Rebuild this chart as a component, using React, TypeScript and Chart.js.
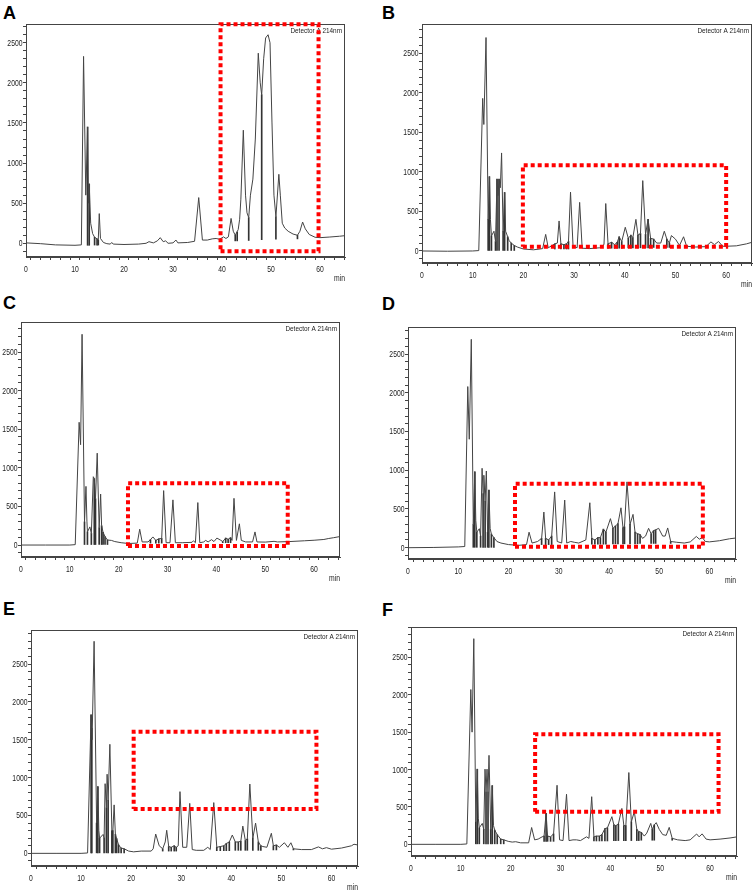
import { useEffect, useRef } from "react";
import { Chart, registerables } from "chart.js";

Chart.register(...registerables);

type Pt = [number, number]; // [retention time (min), signal]
type Drop = [number, number, number]; // [time, baseline, top]

// ---------- data ----------
const traceA: Pt[] = [
  [0, 5], [3, -5], [6, -20], [10, -25], [11.3, -20], [11.75, 2330], [12.2, 600], [12.57, 1450],
  [12.75, 500], [12.9, 740], [13.2, 250], [13.6, 120], [14.0, 75], [14.5, 55], [14.75, 40],
  [14.95, 370], [15.2, 60], [15.8, 10], [16.5, -5], [17.2, -10], [17.5, 10], [17.8, -10],
  [20, -15], [23, -10], [24.5, 0], [25.1, 20], [26, 5], [26.8, 30], [27.4, 70], [28.0, 20],
  [28.5, 30], [29, 0], [30, 5], [30.6, 40], [31, 5], [33, 10], [34.4, 25], [35.25, 570],
  [36, 40], [37, 40], [38, 55], [38.8, 60], [39.5, 50], [40.3, 80], [40.8, 60], [41.3, 80],
  [41.85, 310], [42.3, 150], [42.7, 100], [43.3, 170], [43.6, 300], [43.85, 550], [44.35, 1410],
  [44.8, 600], [45.1, 380], [45.45, 320], [45.8, 600], [46.3, 800], [46.8, 1300], [47.4, 2370],
  [47.8, 2000], [48.1, 1850], [48.5, 2300], [48.9, 2560], [49.4, 2600], [49.8, 2500],
  [50.2, 1500], [50.6, 600], [51.0, 330], [51.6, 860], [51.9, 600], [52.3, 250], [52.8, 190],
  [53.5, 150], [54.5, 115], [55.4, 100], [55.9, 150], [56.45, 265], [57, 180], [57.8, 110],
  [59, 75], [60, 70], [62, 78], [64, 88], [65.1, 95],
];
const dropsA: Drop[] = [
  [12.57, -25, 1450], [12.9, -25, 740], [14.0, -22, 75], [14.5, -22, 55], [14.75, -22, 40],
  [42.7, 30, 100], [43.1, 30, 140], [45.45, 35, 320], [48.1, 45, 1850], [51.0, 50, 330],
  [55.4, 55, 100],
];
const boxA = [39.7, 59.7, -100, 2730];
const yRangeA = [-171, 2734];

const traceB: Pt[] = [
  [0, 0], [5, -3], [10, 0], [11.2, 5], [11.97, 1930], [12.2, 1600], [12.63, 2700], [13.05, 400],
  [13.3, 940], [13.5, 400], [13.7, 190], [14.2, 250], [14.5, 120], [14.8, 910], [15.0, 700],
  [15.2, 910], [15.45, 800], [15.7, 1240], [16.0, 250], [16.3, 740], [16.5, 250], [16.9, 180],
  [17.2, 130], [17.6, 100], [18.2, 70], [18.8, 50], [20, 25], [22, 15], [23.8, 30], [24.4, 210],
  [24.9, 40], [26.2, 90], [26.7, 100], [27.04, 380], [27.4, 90], [28.0, 80], [28.5, 90],
  [28.9, 120], [29.3, 745], [29.8, 60], [30.6, 40], [31.1, 615], [31.6, 35], [33, 30], [35, 40],
  [35.9, 80], [36.25, 600], [36.7, 90], [37.4, 110], [38.0, 80], [38.5, 110], [38.9, 180],
  [39.4, 120], [40.1, 300], [40.7, 160], [41.2, 200], [41.6, 170], [42.2, 400], [42.6, 200],
  [43.1, 220], [43.55, 890], [44.1, 210], [44.6, 400], [45.1, 160], [45.7, 150], [46.3, 100],
  [47.1, 100], [47.8, 250], [48.3, 150], [48.8, 100], [49.2, 195], [50.0, 150], [50.8, 70],
  [51.6, 180], [52.2, 60], [54, 50], [56, 55], [57.0, 115], [57.7, 80], [58.5, 120], [59.3, 60],
  [60, 60], [62, 65], [64, 90], [65.1, 110],
];
const dropsB: Drop[] = [
  [13.05, 0, 400], [13.3, 0, 940], [13.7, 0, 190], [14.5, 0, 120], [14.8, 0, 910], [15.2, 0, 910],
  [16.0, 0, 250], [16.3, 0, 740], [16.9, 0, 180], [17.6, 0, 100], [18.2, 0, 70],
  [26.2, 25, 90], [27.4, 25, 90], [28.0, 25, 80], [28.5, 25, 90], [28.9, 25, 120],
  [36.7, 35, 90], [37.4, 35, 110], [38.0, 35, 80], [38.5, 35, 110], [38.9, 35, 180],
  [39.4, 35, 120], [40.7, 40, 160], [41.2, 40, 200], [41.6, 40, 170], [42.6, 40, 200],
  [43.1, 40, 220], [44.1, 40, 210], [44.6, 40, 400], [45.1, 45, 160], [45.7, 45, 150],
  [48.3, 45, 150], [48.8, 45, 100], [52.2, 45, 60],
];
const boxB = [19.9, 60, 55, 1083];
const yRangeB = [-152, 2871];

const traceC: Pt[] = [
  [0, 0], [5, 0], [10, 0], [11.1, 5], [11.9, 1590], [12.2, 1300], [12.5, 2730], [13.0, 300],
  [13.3, 760], [13.5, 300], [13.6, 170], [14.1, 235], [14.4, 150], [14.8, 885], [15.0, 860],
  [15.25, 600], [15.6, 1190], [16.0, 220], [16.3, 660], [16.5, 250], [16.8, 165], [17.2, 110],
  [17.7, 65], [18.5, 60], [19.2, 45], [20.5, 30], [22, 20], [23.8, 25], [24.3, 205], [24.8, 40],
  [26, 40], [26.5, 70], [27.0, 105], [27.6, 60], [28.2, 80], [28.8, 85], [29.2, 705], [29.7, 30],
  [30.5, 30], [31.1, 585], [31.6, 30], [33, 30], [35.0, 35], [35.3, 55], [35.7, 30], [36.2, 550],
  [36.6, 30], [37.4, 40], [37.8, 60], [38.3, 40], [39.0, 70], [39.5, 45], [40.1, 90], [40.8, 65],
  [41.3, 45], [41.9, 90], [42.4, 75], [42.9, 95], [43.2, 60], [43.6, 605], [44.1, 60],
  [44.7, 275], [45.1, 60], [46, 40], [47.4, 40], [47.9, 170], [48.3, 40], [50, 38], [51.8, 48],
  [52.5, 40], [55, 45], [58, 55], [60, 62], [62, 72], [63, 85], [64, 95], [65.3, 110],
];
const dropsC: Drop[] = [
  [13.0, 0, 300], [13.6, 0, 170], [14.4, 0, 150], [15.0, 0, 860], [15.25, 0, 600], [16.0, 0, 220],
  [16.5, 0, 250], [16.8, 0, 165], [17.2, 0, 110], [17.7, 0, 65], [26.5, 25, 70], [27.6, 25, 60],
  [28.2, 25, 80], [28.8, 25, 85], [41.3, 30, 45], [41.9, 30, 90], [42.4, 30, 75], [42.9, 30, 95],
];
const boxC = [21.9, 54.6, -13, 799];
const yRangeC = [-155, 2889];

const traceD: Pt[] = [
  [0, 0], [5, 3], [10, 10], [11.3, 15], [11.9, 2080], [12.2, 1400], [12.6, 2690], [13.0, 300],
  [13.3, 980], [13.5, 350], [13.7, 200], [14.2, 245], [14.45, 150], [14.75, 1025], [14.95, 700],
  [15.1, 935], [15.35, 600], [15.6, 990], [15.85, 200], [16.1, 745], [16.35, 250], [16.6, 175],
  [17.1, 130], [17.7, 80], [18.5, 60], [20, 40], [22, 30], [23.6, 40], [24.1, 200], [24.7, 60],
  [25.8, 80], [26.6, 120], [27.05, 460], [27.4, 120], [28.0, 100], [28.6, 150], [29.2, 720],
  [29.7, 80], [30.6, 60], [31.2, 615], [31.6, 60], [32.4, 80], [33.1, 70], [34.0, 60],
  [35.4, 100], [36.2, 580], [36.6, 120], [37.2, 100], [37.8, 130], [38.3, 130], [38.9, 240],
  [39.4, 200], [40.3, 375], [40.8, 250], [41.3, 280], [41.8, 310], [42.4, 515], [42.8, 260],
  [43.1, 270], [43.6, 850], [44.2, 300], [44.8, 430], [45.2, 200], [45.7, 180], [46.2, 170],
  [46.7, 120], [47.3, 150], [47.9, 250], [48.4, 180], [48.9, 220], [49.3, 230], [49.9, 250],
  [50.7, 150], [51.2, 150], [51.7, 255], [52.3, 80], [53.5, 70], [55, 60], [56.2, 75],
  [57.4, 145], [58.0, 110], [58.6, 130], [59.2, 80], [60, 75], [62, 90], [64, 115], [65.3, 125],
];
const dropsD: Drop[] = [
  [13.0, 5, 300], [13.3, 5, 980], [13.7, 5, 200], [14.45, 5, 150], [14.95, 5, 700],
  [15.35, 5, 600], [15.85, 5, 200], [16.1, 5, 745], [16.6, 5, 175], [17.1, 5, 130],
  [26.6, 40, 120], [27.4, 40, 120], [28.0, 40, 100], [28.6, 40, 150], [36.6, 45, 120],
  [37.2, 45, 100], [37.8, 45, 130], [38.3, 45, 130], [38.9, 45, 240], [39.4, 45, 200],
  [40.8, 50, 250], [41.3, 50, 280], [41.8, 50, 310], [42.8, 50, 260], [43.1, 50, 270],
  [44.2, 50, 300], [45.2, 50, 200], [45.7, 50, 180], [46.2, 55, 170], [48.4, 55, 180],
  [48.9, 55, 220], [49.3, 55, 230], [52.3, 55, 80],
];
const boxD = [21.3, 58.7, 13, 826];
const yRangeD = [-146, 2849];

const traceE: Pt[] = [
  [0, 0], [5, 0], [10, 0], [11.3, 5], [12.0, 1830], [12.2, 1500], [12.6, 2800], [13.1, 400],
  [13.35, 880], [13.55, 300], [13.7, 200], [14.4, 250], [14.6, 200], [14.8, 920], [15.05, 600],
  [15.2, 1045], [15.4, 700], [15.75, 1440], [16.15, 300], [16.35, 300], [16.6, 640],
  [16.85, 250], [17.1, 195], [17.5, 110], [18.0, 70], [18.6, 60], [19.5, 30], [20.5, 20],
  [22, 30], [24, 30], [24.4, 60], [24.9, 255], [25.6, 100], [26.3, 60], [26.8, 150], [27.1, 305],
  [27.5, 90], [28.0, 80], [28.6, 100], [29.0, 80], [29.4, 100], [29.75, 815], [30.3, 80],
  [31.1, 80], [31.7, 660], [32.2, 50], [33, 40], [34.5, 40], [35.3, 80], [35.8, 50], [36.5, 670],
  [37.1, 80], [37.8, 90], [38.5, 100], [39.0, 130], [39.6, 150], [40.2, 242], [40.8, 150],
  [41.4, 150], [41.9, 160], [42.3, 360], [42.8, 170], [43.2, 190], [43.7, 915], [44.3, 200],
  [44.85, 400], [45.4, 150], [45.9, 100], [46.3, 90], [47.1, 80], [48.0, 265], [48.4, 100],
  [49.0, 110], [49.6, 80], [50.6, 140], [51.3, 80], [51.9, 140], [52.4, 60], [54, 50], [56, 50],
  [57.4, 85], [58.2, 60], [59.0, 75], [60, 55], [62, 70], [64, 100], [64.5, 120], [65.3, 110],
];
const dropsE: Drop[] = [
  [12.0, 0, 1830], [12.15, 0, 1650], [13.1, 0, 400], [13.35, 0, 880], [13.7, 0, 200],
  [14.6, 0, 200], [15.05, 0, 600], [15.4, 0, 700], [16.15, 0, 300], [16.35, 0, 300],
  [16.85, 0, 250], [17.1, 0, 195], [17.5, 0, 110], [18.0, 0, 70], [18.6, 0, 60],
  [26.3, 30, 60], [27.5, 30, 90], [28.0, 30, 80], [28.6, 30, 100], [29.0, 30, 80],
  [37.1, 35, 80], [37.8, 35, 90], [38.5, 35, 100], [39.0, 35, 130], [39.6, 35, 150],
  [40.8, 40, 150], [41.4, 40, 150], [41.9, 40, 160], [42.8, 40, 170], [43.2, 40, 190],
  [44.3, 40, 200], [45.4, 40, 150], [45.9, 40, 100], [48.4, 45, 100], [49.0, 45, 110],
  [52.4, 45, 60],
];
const boxE = [20.5, 57.0, 585, 1606];
const yRangeE = [-167, 2949];

const traceF: Pt[] = [
  [0, 0], [5, 0], [10, 0], [11.2, 5], [12.0, 2070], [12.25, 1500], [12.6, 2750], [13.0, 300],
  [13.3, 1005], [13.5, 350], [13.7, 220], [14.3, 280], [14.6, 200], [14.85, 1005], [15.05, 700],
  [15.25, 1005], [15.45, 700], [15.65, 1190], [16.0, 200], [16.3, 785], [16.55, 250],
  [16.8, 190], [17.3, 130], [18.0, 70], [18.6, 60], [19.5, 40], [20.3, 30], [21, 35], [22, 20],
  [23.6, 20], [24.2, 225], [24.8, 60], [25.5, 70], [26.3, 100], [26.7, 110], [27.1, 415],
  [27.4, 110], [28.0, 100], [28.6, 140], [29.3, 790], [29.8, 60], [30.5, 50], [31.2, 670],
  [31.7, 50], [32.5, 60], [33.2, 60], [34.0, 50], [35.2, 100], [35.7, 80], [36.25, 637],
  [36.7, 100], [37.2, 110], [37.8, 110], [38.3, 130], [38.9, 210], [39.4, 220], [40.3, 370],
  [40.7, 260], [41.1, 250], [41.6, 270], [42.3, 480], [42.7, 250], [43.1, 250], [43.7, 960],
  [44.2, 300], [44.8, 437], [45.3, 200], [45.7, 170], [46.2, 160], [46.8, 110], [47.3, 150],
  [48.1, 280], [48.4, 200], [48.8, 260], [49.2, 290], [49.8, 200], [50.5, 130], [51.2, 120],
  [51.8, 227], [52.4, 80], [53.5, 60], [55, 50], [56, 60], [57.3, 138], [57.8, 100],
  [58.4, 140], [59.2, 70], [60, 60], [62, 70], [64, 85], [65.4, 100],
];
const dropsF: Drop[] = [
  [13.0, 0, 300], [13.3, 0, 1005], [13.7, 0, 220], [14.6, 0, 200], [15.05, 0, 700],
  [15.45, 0, 700], [16.0, 0, 200], [16.3, 0, 785], [16.8, 0, 190], [17.3, 0, 130],
  [18.0, 0, 70], [18.6, 0, 60], [26.7, 40, 110], [27.1, 40, 415], [27.4, 40, 110],
  [28.0, 40, 100], [28.6, 40, 140], [36.7, 45, 100], [37.2, 45, 110], [37.8, 45, 110],
  [38.3, 45, 130], [38.9, 45, 210], [39.4, 45, 220], [40.7, 50, 260], [41.1, 50, 250],
  [41.6, 50, 270], [42.7, 50, 250], [43.1, 50, 250], [44.2, 50, 300], [45.3, 50, 200],
  [45.7, 50, 170], [46.2, 55, 160], [48.4, 55, 200], [48.8, 55, 260], [52.4, 55, 80],
];
const boxF = [24.9, 61.7, 437, 1471];
const yRangeF = [-156, 2906];

const xTickLabels = [0, 10, 20, 30, 40, 50, 60];
const yTickLabels = [0, 500, 1000, 1500, 2000, 2500];
const xMinorStep = 2;
const yMinorStep = 100;
const detectorLabel = "Detector A 214nm";
const timeUnit = "min";

// ---------- layout ----------
const Y_AXIS_W = 26;
const X_AXIS_H = 28;
const PAD_T = 7;
const PAD_R = 2;
const FONT = "'Liberation Sans', Arial, sans-serif";
const SQUEEZE = 0.8; // the instrument software uses a condensed face

type Panel = {
  letter: string;
  trace: Pt[];
  drops: Drop[];
  box: number[];
  yRange: number[];
  xMax: number;
  plot: [number, number, number, number]; // left, top, right, bottom (px)
  letterAt: [number, number];
};

const panels: Panel[] = [
  { letter: "A", trace: traceA, drops: dropsA, box: boxA, yRange: yRangeA, xMax: 65.1, plot: [26, 24, 345, 257], letterAt: [3, 6] },
  { letter: "B", trace: traceB, drops: dropsB, box: boxB, yRange: yRangeB, xMax: 65.1, plot: [422, 24, 752, 263], letterAt: [382, 6] },
  { letter: "C", trace: traceC, drops: dropsC, box: boxC, yRange: yRangeC, xMax: 65.3, plot: [21, 322, 340, 557], letterAt: [3, 296] },
  { letter: "D", trace: traceD, drops: dropsD, box: boxD, yRange: yRangeD, xMax: 65.3, plot: [408, 327, 736, 559], letterAt: [382, 297] },
  { letter: "E", trace: traceE, drops: dropsE, box: boxE, yRange: yRangeE, xMax: 65.3, plot: [31, 630, 358, 866], letterAt: [3, 602] },
  { letter: "F", trace: traceF, drops: dropsF, box: boxF, yRange: yRangeF, xMax: 65.4, plot: [411, 627, 737, 856], letterAt: [382, 603] },
];

function squeezedText(ctx: CanvasRenderingContext2D, text: string, x: number, y: number, align: CanvasTextAlign) {
  ctx.save();
  ctx.translate(x, y);
  ctx.scale(SQUEEZE, 1);
  ctx.textAlign = align;
  ctx.fillText(text, 0, 0);
  ctx.restore();
}

// frame round the plot area, tick labels and captions in the instrument's narrow face
const framePlugin = {
  id: "frame",
  beforeDatasetsDraw(chart: Chart) {
    const { ctx, chartArea: a } = chart;
    ctx.save();
    ctx.strokeStyle = "#444";
    ctx.lineWidth = 1;
    ctx.strokeRect(a.left + 0.5, a.top + 0.5, a.right - a.left - 1, a.bottom - a.top - 1);
    ctx.fillStyle = "#222";
    ctx.font = `8px ${FONT}`;
    ctx.textBaseline = "alphabetic";
    squeezedText(ctx, detectorLabel, a.right - 3, a.top + 9, "right");
    ctx.restore();
  },
  afterDraw(chart: Chart) {
    const { ctx, chartArea: a, scales } = chart;
    ctx.save();
    ctx.fillStyle = "#222";
    ctx.font = `8.5px ${FONT}`;
    ctx.textBaseline = "alphabetic";
    yTickLabels.forEach((v) => {
      squeezedText(ctx, String(v), a.left - 3.5, scales.y.getPixelForValue(v) + 3, "right");
    });
    xTickLabels.forEach((v) => {
      squeezedText(ctx, String(v), scales.x.getPixelForValue(v), a.bottom + 14.5, "center");
    });
    squeezedText(ctx, timeUnit, a.right, a.bottom + 23.5, "right");
    ctx.restore();
  },
};

function minorTicks(step: number) {
  return (s: any) => {
    const ticks = [];
    for (let v = Math.ceil(s.min / step) * step; v <= s.max; v += step) ticks.push({ value: v });
    s.ticks = ticks;
  };
}

function Chromatogram({ panel }: { panel: Panel }) {
  const ref = useRef<HTMLCanvasElement | null>(null);
  const [l, t, r, b] = panel.plot;
  const yAxisW = Math.min(Y_AXIS_W, l);

  useEffect(() => {
    if (!ref.current) return;
    const [bx1, bx2, by1, by2] = panel.box;
    const chart = new Chart(ref.current, {
      type: "line",
      data: {
        datasets: [
          {
            type: "line",
            data: [
              { x: bx1, y: by1 }, { x: bx2, y: by1 }, { x: bx2, y: by2 },
              { x: bx1, y: by2 }, { x: bx1, y: by1 },
            ],
            borderColor: "#ff0000",
            borderWidth: 4,
            borderDash: [4, 3],
            borderCapStyle: "butt",
            pointRadius: 0,
            tension: 0,
            clip: false,
            order: 1,
          },
          {
            type: "line",
            data: panel.trace.map(([x, y]) => ({ x, y })),
            borderColor: "#444",
            borderWidth: 1,
            pointRadius: 0,
            tension: 0,
            order: 2,
          },
          {
            type: "bar",
            data: panel.drops.map(([x, lo, hi]) => ({ x, y: [lo, hi] })),
            backgroundColor: "#333",
            barThickness: 1,
            grouped: false,
            order: 3,
          } as any,
        ],
      },
      options: {
        animation: false,
        responsive: true,
        maintainAspectRatio: false,
        layout: { padding: { top: PAD_T, right: PAD_R, left: 0, bottom: 0 } },
        plugins: { legend: { display: false }, tooltip: { enabled: false } },
        events: [],
        scales: {
          x: {
            type: "linear",
            min: 0,
            max: panel.xMax,
            offset: false,
            afterBuildTicks: minorTicks(xMinorStep),
            afterFit: (s: any) => { s.height = X_AXIS_H; },
            grid: { drawOnChartArea: false, drawTicks: true, tickLength: 3, color: "#444" },
            border: { display: true, color: "#444" },
            ticks: { display: false },
          },
          y: {
            type: "linear",
            min: panel.yRange[0],
            max: panel.yRange[1],
            afterBuildTicks: minorTicks(yMinorStep),
            afterFit: (s: any) => { s.width = yAxisW; },
            grid: { drawOnChartArea: false, drawTicks: true, tickLength: 3, color: "#444" },
            border: { display: true, color: "#444" },
            ticks: { display: false },
          },
        },
      },
      plugins: [framePlugin],
    });
    return () => chart.destroy();
  }, [panel, yAxisW]);

  return (
    <>
      <div
        style={{
          position: "absolute",
          left: panel.letterAt[0],
          top: panel.letterAt[1] - 2,
          font: "bold 18px 'Liberation Sans', Arial, sans-serif",
          lineHeight: "18px",
          color: "#000",
        }}
      >
        {panel.letter}
      </div>
      <div
        style={{
          position: "absolute",
          left: l - yAxisW,
          top: t - PAD_T,
          width: r - l + yAxisW + PAD_R,
          height: b - t + PAD_T + X_AXIS_H,
        }}
      >
        <canvas ref={ref} />
      </div>
    </>
  );
}

export default function App() {
  return (
    <div
      style={{
        position: "absolute",
        left: 0,
        top: 0,
        width: 754,
        height: 890,
        background: "#fff",
        overflow: "hidden",
      }}
    >
      {panels.map((p) => (
        <Chromatogram key={p.letter} panel={p} />
      ))}
    </div>
  );
}
